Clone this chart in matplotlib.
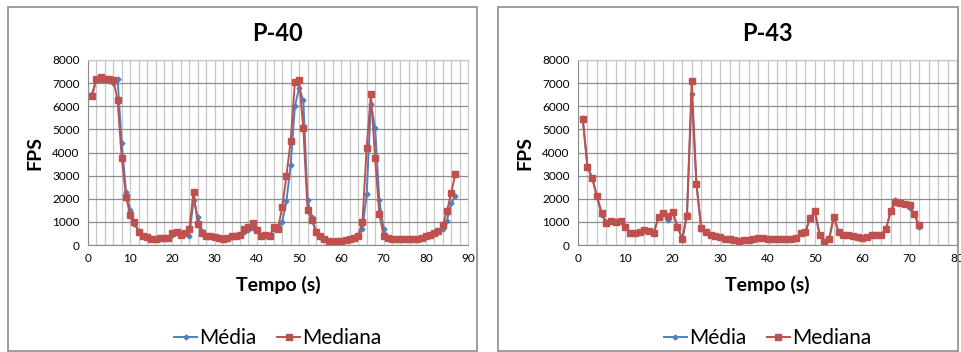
import matplotlib.pyplot as plt
from matplotlib.patches import Rectangle

plt.rcParams['font.family'] = ['Lato', 'DejaVu Sans']

# P-40 data (tempo 1..87)
p40_tempo = list(range(1, 88))
p40_media = [6550, 7200, 7150, 7150, 7100, 7000, 7180, 4400, 2300, 1500,
             900, 600, 400, 330, 280, 250, 280, 300, 320, 450,
             550, 480, 500, 380, 1950, 1200, 600, 400, 380, 350,
             320, 250, 280, 350, 380, 420, 550, 650, 750, 700,
             400, 450, 380, 700, 700, 1000, 1900, 3450, 6000, 6800,
             6250, 1950, 1200, 600, 350, 250, 180, 150, 160, 180,
             220, 250, 320, 400, 700, 2200, 6100, 5070, 1950, 700,
             300, 280, 280, 280, 280, 280, 280, 280, 320, 380,
             450, 500, 560, 700, 1050, 1800, 2100]
p40_mediana = [6450, 7200, 7250, 7200, 7200, 7150, 6270, 3750, 2090, 1300,
               1000, 580, 400, 350, 280, 250, 300, 320, 320, 520,
               560, 450, 500, 700, 2300, 900, 500, 400, 380, 350,
               320, 250, 300, 400, 380, 420, 700, 780, 950, 650,
               400, 450, 380, 800, 700, 1650, 3000, 4500, 7050, 7150,
               5050, 1500, 1100, 550, 400, 250, 180, 150, 170, 190,
               230, 260, 320, 400, 1000, 4200, 6550, 3750, 1350, 400,
               300, 280, 280, 280, 280, 280, 280, 280, 320, 380,
               450, 520, 600, 850, 1450, 2250, 3050]

# P-43 data (tempo 1..72)
p43_tempo = list(range(1, 73))
p43_media = [5500, 3380, 2900, 2100, 1300, 950, 1050, 1000, 1020, 800,
             520, 500, 550, 650, 620, 530, 1200, 1380, 1100, 1420,
             800, 250, 1350, 6550, 2650, 700, 550, 450, 400, 330,
             280, 250, 200, 190, 200, 220, 280, 300, 300, 280,
             270, 270, 280, 260, 240, 300, 500, 580, 1150, 1450,
             450, 150, 250, 1230, 550, 430, 450, 380, 330, 300,
             330, 420, 430, 450, 680, 1450, 1950, 1830, 1780, 1600,
             1330, 800]
p43_mediana = [5430, 3380, 2900, 2100, 1400, 950, 1050, 1000, 1020, 800,
               520, 500, 550, 650, 620, 530, 1200, 1380, 1250, 1420,
               800, 250, 1250, 7100, 2650, 750, 550, 450, 400, 330,
               280, 250, 200, 190, 200, 220, 280, 300, 300, 280,
               270, 270, 280, 260, 240, 300, 500, 580, 1150, 1450,
               450, 150, 250, 1230, 550, 430, 450, 380, 330, 300,
               330, 420, 430, 450, 680, 1450, 1850, 1830, 1780, 1720,
               1330, 850]

blue = '#4F81BD'
red = '#C0504D'

fig = plt.figure(figsize=(9.61, 3.52), dpi=100)
W, H = 961, 352

def px(x0, y0, x1, y1):
    return [x0 / W, 1 - y1 / H, (x1 - x0) / W, (y1 - y0) / H]

# panel borders
for bx0, bx1 in [(8, 477), (498, 958)]:
    fig.patches.append(Rectangle((bx0 / W, 1 - 351 / H), (bx1 - bx0) / W, 344 / H,
                                 transform=fig.transFigure, fill=False,
                                 edgecolor='#8c8c8c', linewidth=1.2))

panels = [
    ("P-40", px(88, 60, 468, 245), p40_tempo, p40_media, p40_mediana, 90),
    ("P-43", px(578, 60, 957, 245), p43_tempo, p43_media, p43_mediana, 80),
]

for title, pos, t, media, mediana, xmax in panels:
    ax = fig.add_axes(pos)
    ax.plot(t, media, color=blue, marker='D', markersize=2.5, linewidth=1.4, label='Média')
    ax.plot(t, mediana, color=red, marker='s', markersize=4.5, linewidth=1.4, label='Mediana')
    ax.set_xlim(0, xmax)
    ax.set_ylim(0, 8000)
    ax.set_xticks(range(0, xmax + 1, 10))
    ax.set_xticks(range(0, xmax + 1, 2), minor=True)
    ax.set_yticks(range(0, 8001, 1000))
    ax.grid(which='minor', axis='x', color='#c8c8c8', linewidth=0.9)
    ax.grid(which='major', axis='x', color='#c8c8c8', linewidth=0.9)
    ax.grid(which='major', axis='y', color='#8c8c8c', linewidth=0.9)
    ax.set_axisbelow(True)
    ax.tick_params(which='both', length=0, labelsize=8.5, colors='black', pad=6)
    for s in ['top', 'right']:
        ax.spines[s].set_color('#c8c8c8')
    for s in ['left', 'bottom']:
        ax.spines[s].set_color('#8c8c8c')
    ax.set_title(title, fontsize=17, fontweight='bold', pad=14)
    ax.set_xlabel('Tempo (s)', fontsize=14, fontweight='bold', labelpad=8)
    ax.set_ylabel('FPS', fontsize=14, fontweight='bold', labelpad=6)
    ax.legend(loc='upper center', bbox_to_anchor=(0.5, -0.35), ncol=2, frameon=False,
              fontsize=15, handlelength=1.1, handletextpad=0.1, columnspacing=1.0)

fig.savefig('out.png', dpi=100)
